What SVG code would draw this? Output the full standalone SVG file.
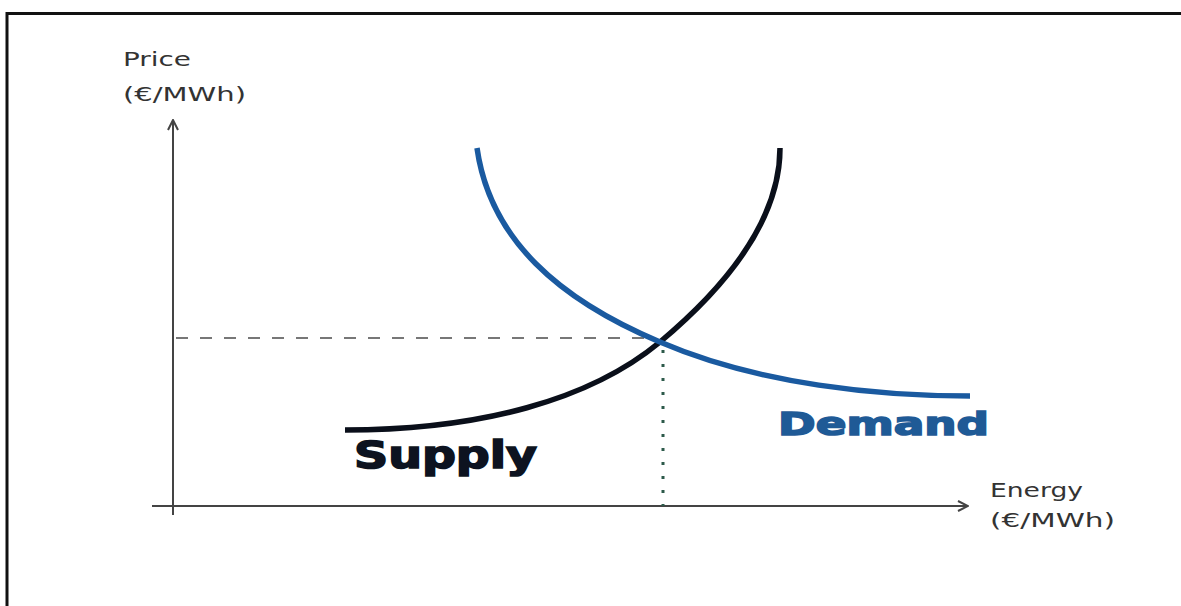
<svg xmlns="http://www.w3.org/2000/svg" width="1181" height="606" viewBox="0 0 1181 606">
<style>
.lbl{font-family:"DejaVu Sans","Noto Sans",sans-serif;font-size:20px;fill:#333}
.big{font-family:"DejaVu Sans","Liberation Sans",sans-serif;font-weight:bold;stroke-width:1.6}
.axis{stroke:#444;stroke-width:2;fill:none}
</style>
<defs>
<marker id="arr" viewBox="0 0 12 12" refX="11" refY="6" markerWidth="12" markerHeight="12" markerUnits="userSpaceOnUse" orient="auto">
<path d="M1,1 L11,6 L1,11" fill="none" stroke="#444" stroke-width="2"/>
</marker>
</defs>
<rect x="0" y="0" width="1181" height="606" fill="#fff"/>
<path d="M7,606 V13.5 H1181" fill="none" stroke="#111" stroke-width="3"/>
<g id="connectors">
<line class="axis" x1="173" y1="515" x2="173" y2="120" marker-end="url(#arr)"/>
<line class="axis" x1="152" y1="506" x2="968" y2="506" marker-end="url(#arr)"/>
<line x1="176" y1="338" x2="650" y2="338" stroke="#777" stroke-width="2" stroke-dasharray="12,12"/>
<line x1="663" y1="350" x2="663" y2="506" stroke="#2d5a4a" stroke-width="3" stroke-dasharray="3,11"/>
</g>
<g id="supply">
<path d="M345,430 C480,430 590,400 660,342 C740,275 780,210 780,148" fill="none" stroke="#0a0f1a" stroke-width="5.5"/>
<text class="big" x="354" y="468" font-size="37" fill="#0d1320" stroke="#0d1320" textLength="183" lengthAdjust="spacingAndGlyphs">Supply</text>
</g>
<g id="demand">
<path d="M477,148 C490,240 560,300 660,342 C760,385 880,396 970,396" fill="none" stroke="#1a5aa0" stroke-width="5.5"/>
<text class="big" x="778" y="435" font-size="32" fill="#1f5a96" stroke="#1f5a96" textLength="211" lengthAdjust="spacingAndGlyphs">Demand</text>
</g>
<g id="price-label">
<text class="lbl" x="123" y="66" textLength="68" lengthAdjust="spacingAndGlyphs">Price</text>
<text class="lbl" x="123" y="101" textLength="123" lengthAdjust="spacingAndGlyphs">(€/MWh)</text>
</g>
<g id="energy-label">
<text class="lbl" x="990" y="497" textLength="93" lengthAdjust="spacingAndGlyphs">Energy</text>
<text class="lbl" x="990" y="527" textLength="125" lengthAdjust="spacingAndGlyphs">(€/MWh)</text>
</g>
</svg>
